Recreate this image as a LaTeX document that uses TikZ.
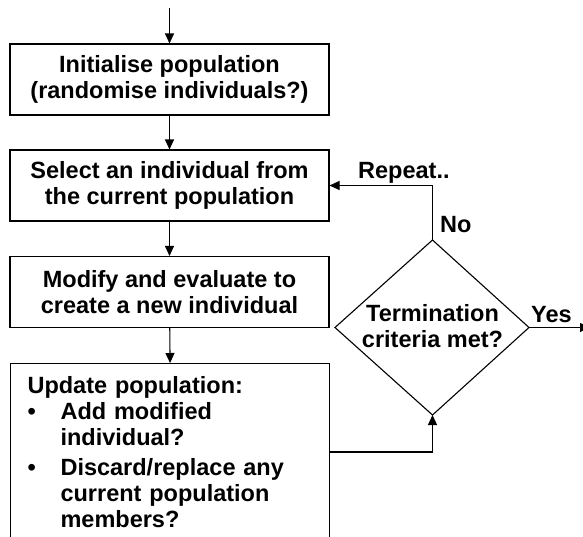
\documentclass[tikz,border=0pt]{standalone}
\usepackage{fontspec}
\setmainfont{Liberation Sans}
\usetikzlibrary{arrows.meta}
\begin{document}
\begin{tikzpicture}[x=1pt,y=-1pt,
  txt/.style={font=\bfseries\fontsize{23.5}{26}\selectfont},
  box/.style={txt, draw, line width=1.1pt, minimum width=319pt, minimum height=71pt, inner sep=0pt, align=center},
  arr/.style={-{Triangle[length=10pt,width=9pt]}, line width=1.1pt},
  ln/.style={line width=1.1pt},
  lbl/.style={txt, inner sep=0pt}]
\useasboundingbox (0,0) rectangle (583,536);
\clip (0,0) rectangle (583,536);
\coordinate (start) at (169.5,8);
\node[box] (b1) at (169.5,79.5) {Initialise population\\(randomise individuals?)};
\node[box] (b2) at (169.5,185.5) {Select an individual from\\the current population};
\node[box] (b3) at (169.5,292) {Modify and evaluate to\\create a new individual};
\node[box, anchor=north west, minimum height=0pt, text width=285pt, inner xsep=17pt, inner ysep=13pt, align=left] (b4) at (10,363)
  {Update population:\\
   \makebox[33pt][l]{•}Add modified\\
   \hspace*{33pt}individual?\\[4pt]
   \makebox[33pt][l]{•}Discard/replace any\\
   \hspace*{33pt}current population\\
   \hspace*{33pt}members?};
% decision diamond
\coordinate (dT) at (432.5,240);
\coordinate (dB) at (432.5,415);
\coordinate (dL) at (335,327.5);
\coordinate (dR) at (529,327.5);
\draw[ln] (dT) -- (dR) -- (dB) -- (dL) -- cycle;
\node[lbl, align=center] (dtext) at (432.5,326) {Termination\\criteria met?};
\coordinate (yesend) at (590,327.5);
\coordinate (j) at (432.5,452);
% connectors
\draw[arr] (start) -- (b1);
\draw[arr] (b1) -- (b2);
\draw[arr] (b2) -- (b3);
\draw[arr] (b3) -- (b4.north);
\draw[arr] (dT) |- (b2.east);
\draw[arr] (dR) -- (yesend);
\draw[arr] (b4.east |- j) -| (dB);
% labels
\node[lbl, anchor=base west] (repeat) at (358,178) {Repeat..};
\node[lbl, anchor=base west] (no) at (440,232) {No};
\node[lbl, anchor=base west] (yes) at (531,322) {Yes};
\end{tikzpicture}
\end{document}
